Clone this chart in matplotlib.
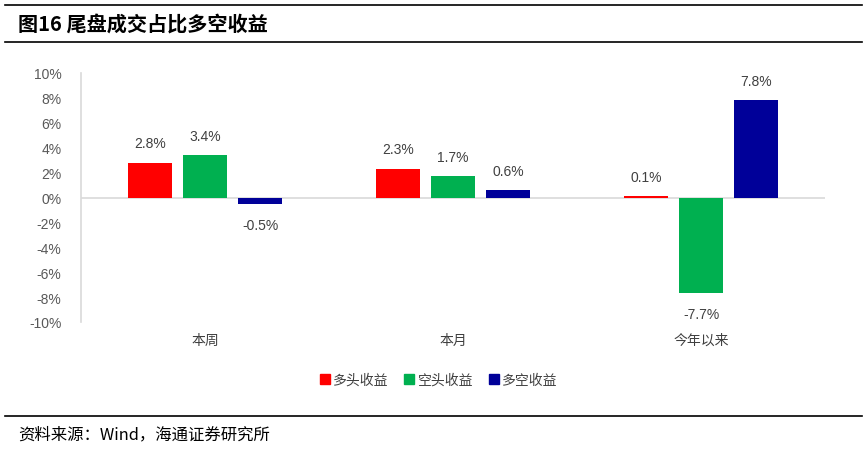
import matplotlib
matplotlib.use("Agg")
import matplotlib.pyplot as plt
import numpy as np
from matplotlib.lines import Line2D

plt.rcParams['font.family'] = ['Noto Sans CJK SC', 'DejaVu Sans']

categories = ['本周', '本月', '今年以来']
series_names = ['多头收益', '空头收益', '多空收益']
long_ret = [2.8, 2.3, 0.1]
short_ret = [3.4, 1.7, -7.7]
ls_ret = [-0.5, 0.6, 7.8]
yticks = [-10, -8, -6, -4, -2, 0, 2, 4, 6, 8, 10]
colors = ['#FF0000', '#00B050', '#000099']

fig = plt.figure(figsize=(8.67, 4.52), dpi=100)
ax = fig.add_axes([81/867, 1-323/452, (825-81)/867, (323-74)/452])

x = np.arange(len(categories))
w = 0.177
pitch = 0.222
series = [long_ret, short_ret, ls_ret]
for i, (vals, c) in enumerate(zip(series, colors)):
    pos = x + (i - 1) * pitch
    ax.bar(pos, vals, width=w, color=c, label=series_names[i], zorder=3)
    for px, v in zip(pos, vals):
        if v >= 0:
            ax.annotate(f'{v:.1f}%', (px, v), xytext=(0, 9), textcoords='offset points',
                        ha='center', va='bottom', fontsize=10, color='#404040', family='Liberation Sans')
        else:
            ax.annotate(f'{v:.1f}%', (px, v), xytext=(0, -10), textcoords='offset points',
                        ha='center', va='top', fontsize=10, color='#404040', family='Liberation Sans')

ax.set_xlim(-0.5, 2.5)
ax.set_ylim(-10, 10)
ax.set_yticks(yticks)
ax.set_yticklabels([f'{t}%' for t in yticks], family='Liberation Sans', fontsize=10, color='#595959')
ax.set_xticks(x)
ax.set_xticklabels(categories, fontsize=10, color='#404040')
ax.tick_params(axis='both', length=0)
ax.tick_params(axis='y', pad=14)
ax.tick_params(axis='x', pad=8)
for s in ['top', 'right', 'bottom']:
    ax.spines[s].set_visible(False)
ax.spines['left'].set_color('#D9D9D9')
ax.spines['left'].set_linewidth(1.2)
ax.axhline(0, color='#D9D9D9', lw=1.2, zorder=2)

handles = [Line2D([0], [0], marker='s', color='w', markerfacecolor=c, markeredgecolor=c,
                  markersize=7, linestyle='None') for c in colors]
fig.legend(handles, series_names, loc='center', bbox_to_anchor=(437/867, 1-381/452),
           ncol=3, frameon=False, fontsize=10, handletextpad=0.0, columnspacing=0.9,
           handlelength=1.2, labelcolor='#404040')

# title and rules
fig.add_artist(Line2D([5/867, 862/867], [1-6/452, 1-6/452], color='black', lw=1.2))
fig.add_artist(Line2D([5/867, 862/867], [1-43/452, 1-43/452], color='black', lw=1.2))
fig.text(18/867, 1-25/452, '图16 尾盘成交占比多空收益', fontsize=14.5, fontweight='bold',
         va='center', ha='left', color='black')
fig.add_artist(Line2D([5/867, 862/867], [1-417/452, 1-417/452], color='black', lw=1.2))
fig.text(18/867, 1-435/452, '资料来源：Wind，海通证券研究所', fontsize=11.8,
         va='center', ha='left', color='black')

fig.savefig('out.png', dpi=100)
